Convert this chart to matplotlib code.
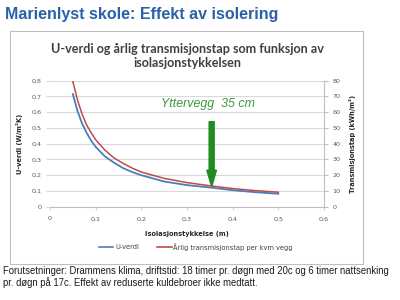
import matplotlib
matplotlib.use("Agg")
import matplotlib.pyplot as plt
from matplotlib.patches import Rectangle, FancyArrow

# Insulation thickness (m) and the two curves
thickness = [0.05, 0.06, 0.07, 0.08, 0.09, 0.10, 0.12, 0.14, 0.16, 0.18,
             0.20, 0.25, 0.30, 0.35, 0.40, 0.45, 0.50]
u_value = [0.715, 0.61, 0.53, 0.47, 0.42, 0.38, 0.32, 0.28, 0.245, 0.22,
           0.20, 0.16, 0.137, 0.122, 0.105, 0.092, 0.082]
transmission_loss = [79.5, 68.0, 59.0, 52.0, 47.0, 42.5, 36.0, 31.0, 27.5, 24.5,
                     22.0, 18.0, 15.3, 13.3, 11.5, 10.2, 9.2]

u_ticks = [0, 0.1, 0.2, 0.3, 0.4, 0.5, 0.6, 0.7, 0.8]
loss_ticks = [0, 10, 20, 30, 40, 50, 60, 70, 80]
x_ticks = [0, 0.1, 0.2, 0.3, 0.4, 0.5, 0.6]

wall_thickness = 0.354
wall_u = 0.127
arrow_top = 0.54

BLUE = "#4a7ebb"
RED = "#be4b48"
GREEN = "#1e8c1e"
TICK_GREY = "#595959"

W, H = 400, 300
fig = plt.figure(figsize=(4, 3), dpi=100)
fig.patch.set_facecolor("white")

def fx(px):
    return px / W

def fy(py):
    return 1 - py / H

# Slide heading
fig.text(fx(5), fy(14), "Marienlyst skole: Effekt av isolering",
         family="Liberation Sans", weight="bold", fontsize=11.5,
         color="#2a62a8", va="center", ha="left")

# Chart frame
fig.patches.append(Rectangle((fx(10), fy(264)), fx(353), (264 - 31) / H,
                             transform=fig.transFigure, fill=False,
                             edgecolor="#bfbfbf", linewidth=0.8))

fig.text(fx(187), fy(49), "U-verdi og årlig transmisjonstap som funksjon av",
         family="Lato", weight="bold", fontsize=9.1, color="#404040",
         ha="center", va="center")
fig.text(fx(187), fy(63), "isolasjonstykkelsen",
         family="Lato", weight="bold", fontsize=9.1, color="#404040",
         ha="center", va="center")

ax = fig.add_axes([fx(50), fy(206.7), fx(324 - 50), (206.7 - 80.7) / H])
ax.set_xlim(0, 0.6)
ax.set_ylim(0, 0.8)
ax.set_yticks(u_ticks)
ax.set_xticks(x_ticks)
ax.set_yticklabels([f"{v:.1f}".replace(".", ",") if v else "0" for v in u_ticks])
ax.set_xticklabels([f"{v:.1f}".replace(".", ",") if v else "0" for v in x_ticks])
ax.grid(axis="y", color="#d9d9d9", linewidth=0.8)
ax.set_axisbelow(True)
for s in ["top", "left", "right"]:
    ax.spines[s].set_visible(False)
ax.spines["bottom"].set_color("#bfbfbf")
ax.tick_params(axis="y", length=3, color="#d9d9d9", labelsize=4.6,
               labelcolor=TICK_GREY, pad=3)
ax.tick_params(axis="x", length=2, color="#d9d9d9", labelsize=4.6,
               labelcolor=TICK_GREY, pad=5)

ax2 = ax.twinx()
ax2.set_ylim(0, 80)
ax2.set_yticks(loss_ticks)
for s in ["top", "left", "bottom"]:
    ax2.spines[s].set_visible(False)
ax2.spines["right"].set_color("#bfbfbf")
ax2.tick_params(axis="y", length=3, color="#bfbfbf", labelsize=4.6,
                labelcolor=TICK_GREY, pad=3)

ax.plot(thickness, u_value, color=BLUE, linewidth=1.3, zorder=3)
ax2.plot(thickness, transmission_loss, color=RED, linewidth=1.1, zorder=3)

ax.set_ylabel("U-verdi (W/m²K)", fontsize=4.8, color="#262626",
              weight="bold", labelpad=6)
ax2.set_ylabel("Transmisjonstap (kWh/m²)", fontsize=4.8, color="#262626",
               weight="bold", labelpad=6)
ax.set_xlabel("Isolasjonstykkelse (m)", fontsize=4.8, color="#262626",
              weight="bold", labelpad=7)

# Marker for the 35 cm wall
ax.add_patch(FancyArrow(wall_thickness, arrow_top, 0, wall_u - arrow_top,
                        width=0.011, head_width=0.021, head_length=0.105,
                        length_includes_head=True, color=GREEN,
                        transform=ax.transData, zorder=5))
ax.text(0.346, 0.65, "Yttervegg  35 cm", family="Liberation Sans",
        style="italic", fontsize=8.9, color="#3a9a3a", ha="center", va="center")

# Legend
fig.lines.append(plt.Line2D([fx(99), fx(113)], [fy(246.7)] * 2, color=BLUE,
                            linewidth=1.2, transform=fig.transFigure))
fig.text(fx(115), fy(246.7), "U-verdi", fontsize=4.8, color="#404040",
         ha="left", va="center")
fig.lines.append(plt.Line2D([fx(157), fx(172)], [fy(246.7)] * 2, color=RED,
                            linewidth=1.2, transform=fig.transFigure))
fig.text(fx(173), fy(246.7), "Årlig transmisjonstap per kvm vegg", fontsize=4.8,
         color="#404040", ha="left", va="center")

# Footnote
fig.text(fx(3), fy(271),
         "Forutsetninger: Drammens klima, driftstid: 18 timer pr. døgn med 20c og 6 timer nattsenking",
         family="Liberation Sans", fontsize=6.85, color="#1a1a1a", ha="left", va="center")
fig.text(fx(3), fy(283),
         "pr. døgn på 17c. Effekt av reduserte kuldebroer ikke medtatt.",
         family="Liberation Sans", fontsize=6.85, color="#1a1a1a", ha="left", va="center")

fig.savefig("out.png", dpi=100)
